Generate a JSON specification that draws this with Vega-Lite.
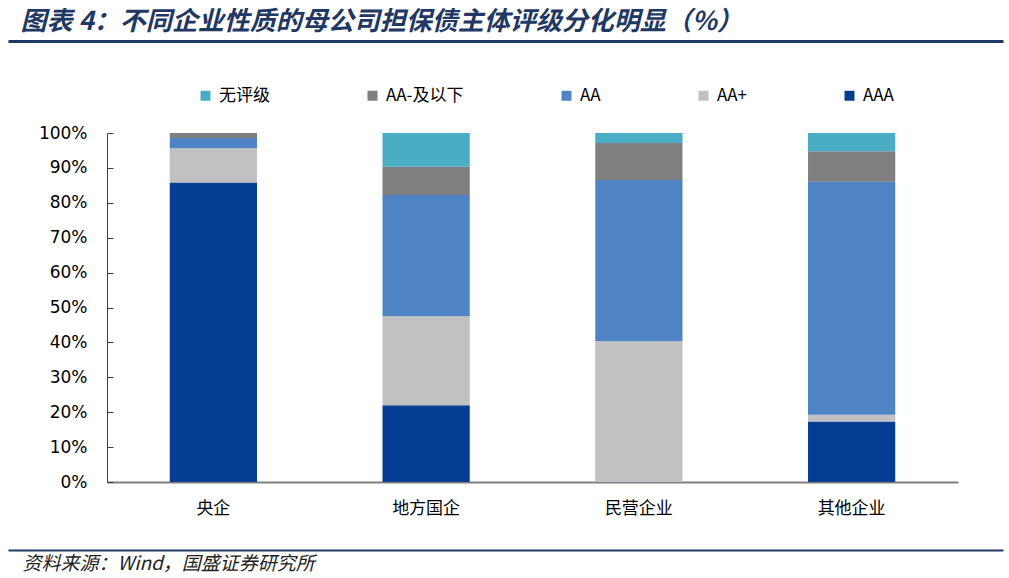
{
  "$schema": "https://vega.github.io/schema/vega-lite/v6.json",
  "autosize": {"type": "none"},
  "padding": {"left": 8, "right": 6, "top": 133, "bottom": 96},
  "width": 995,
  "height": 349,
  "background": "white",
  "config": {
    "view": {"stroke": null},
    "font": "Noto Sans CJK SC"
  },
  "resolve": {"scale": {"x": "independent"}, "axis": {"x": "independent"}},
  "layer": [
    {
      "data": {
        "values": [
          {"type": "央企", "rating": "AAA", "pct": 85.8},
          {"type": "央企", "rating": "AA+", "pct": 9.8},
          {"type": "央企", "rating": "AA", "pct": 3.0},
          {"type": "央企", "rating": "AA-及以下", "pct": 1.4},
          {"type": "央企", "rating": "无评级", "pct": 0},
          {"type": "地方国企", "rating": "AAA", "pct": 22.0},
          {"type": "地方国企", "rating": "AA+", "pct": 25.5},
          {"type": "地方国企", "rating": "AA", "pct": 34.7},
          {"type": "地方国企", "rating": "AA-及以下", "pct": 8.1},
          {"type": "地方国企", "rating": "无评级", "pct": 9.7},
          {"type": "民营企业", "rating": "AAA", "pct": 0},
          {"type": "民营企业", "rating": "AA+", "pct": 40.3},
          {"type": "民营企业", "rating": "AA", "pct": 46.2},
          {"type": "民营企业", "rating": "AA-及以下", "pct": 10.6},
          {"type": "民营企业", "rating": "无评级", "pct": 2.9},
          {"type": "其他企业", "rating": "AAA", "pct": 17.3},
          {"type": "其他企业", "rating": "AA+", "pct": 2.0},
          {"type": "其他企业", "rating": "AA", "pct": 66.7},
          {"type": "其他企业", "rating": "AA-及以下", "pct": 8.8},
          {"type": "其他企业", "rating": "无评级", "pct": 5.2}
        ]
      },
      "transform": [
        {"calculate": "indexof(['AAA','AA+','AA','AA-及以下','无评级'], datum.rating)", "as": "stackOrder"}
      ],
      "mark": {"type": "bar"},
      "encoding": {
        "x": {
          "field": "type",
          "type": "nominal",
          "sort": null,
          "scale": {"range": [99, 950], "paddingInner": 0.59, "paddingOuter": 0.295},
          "axis": {
            "title": null,
            "labelAngle": 0,
            "ticks": false,
            "domainColor": "#7f7f7f",
            "domainWidth": 2,
            "labelPadding": 18,
            "labelFont": "Noto Sans CJK SC",
            "labelFontSize": 17,
            "labelColor": "#000000"
          }
        },
        "y": {
          "field": "pct",
          "type": "quantitative",
          "stack": "zero",
          "scale": {"domain": [0, 100], "nice": false},
          "axis": {
            "title": null,
            "offset": -99,
            "values": [0, 10, 20, 30, 40, 50, 60, 70, 80, 90, 100],
            "labelExpr": "datum.value + '%'",
            "grid": false,
            "domainColor": "#404040",
            "tickColor": "#404040",
            "tickSize": -6,
            "labelPadding": 26,
            "labelFont": "DejaVu Sans",
            "labelFontSize": 17,
            "labelColor": "#000000"
          }
        },
        "color": {
          "field": "rating",
          "type": "nominal",
          "scale": {
            "domain": ["无评级", "AA-及以下", "AA", "AA+", "AAA"],
            "range": ["#4BACC6", "#7F7F82", "#4F84C4", "#C1C0C2", "#043D92"]
          },
          "legend": {
            "orient": "none",
            "legendX": 189,
            "legendY": -46,
            "direction": "horizontal",
            "title": null,
            "symbolType": "square",
            "symbolSize": 100,
            "symbolStrokeWidth": 0,
            "labelFontSize": 17,
            "labelFont": "Noto Sans CJK SC",
            "labelColor": "#000000",
            "columnPadding": 94,
            "labelOffset": 5,
            "padding": 0
          }
        },
        "order": {"field": "stackOrder", "type": "quantitative", "sort": "ascending"}
      }
    },
    {
      "data": {"values": []},
      "mark": "rule",
      "encoding": {
        "x": {
          "field": "h",
          "type": "quantitative",
          "scale": {"domain": [0, 1]},
          "axis": {
            "orient": "top",
            "offset": 92,
            "labels": false,
            "ticks": false,
            "grid": false,
            "domainColor": "#1F3864",
            "domainWidth": 3,
            "title": "图表 4：不同企业性质的母公司担保债主体评级分化明显（%）",
            "titleAnchor": "start",
            "titleAlign": "left",
            "titleBaseline": "middle",
            "titleAngle": 0,
            "titleX": 12,
            "titleY": -20,
            "titleFont": "Noto Sans CJK SC",
            "titleFontSize": 26,
            "titleFontStyle": "italic",
            "titleFontWeight": "bold",
            "titleColor": "#1F3864"
          }
        }
      }
    },
    {
      "data": {"values": []},
      "mark": "rule",
      "encoding": {
        "x": {
          "field": "f",
          "type": "quantitative",
          "scale": {"domain": [0, 1]},
          "axis": {
            "orient": "bottom",
            "offset": 68,
            "labels": false,
            "ticks": false,
            "grid": false,
            "domainColor": "#1F3864",
            "domainWidth": 2,
            "title": "资料来源：Wind，国盛证券研究所",
            "titleAnchor": "start",
            "titleAlign": "left",
            "titleBaseline": "middle",
            "titleAngle": 0,
            "titleX": 14,
            "titleY": 13,
            "titleFont": "Noto Sans CJK SC",
            "titleFontSize": 19,
            "titleFontStyle": "italic",
            "titleFontWeight": "normal",
            "titleColor": "#222222"
          }
        }
      }
    }
  ]
}
